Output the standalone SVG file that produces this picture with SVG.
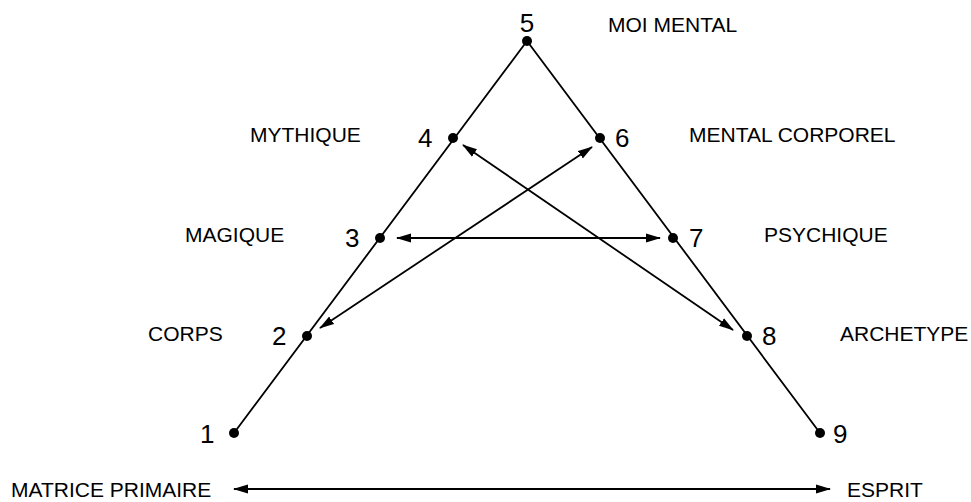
<svg xmlns="http://www.w3.org/2000/svg" width="971" height="502" viewBox="0 0 971 502">
<style>
.ln{stroke:#000;stroke-width:1.8;fill:none}
.ar{stroke:#000;stroke-width:1.8;fill:none;marker-start:url(#ah);marker-end:url(#ah)}
.dot{fill:#000}
.lbl{font-family:"Liberation Sans",Arial,sans-serif;font-size:21px;fill:#000}
.num{font-family:"Liberation Sans",Arial,sans-serif;font-size:26px;fill:#000}
</style>
<defs>
<marker id="ah" viewBox="0 0 15 10" refX="14" refY="5" markerWidth="15" markerHeight="10" markerUnits="userSpaceOnUse" orient="auto-start-reverse">
<path d="M0,0.5 L15,5 L0,9.5 Z" fill="#000"/>
</marker>
</defs>
<rect width="971" height="502" fill="#fff"/>
<g id="connectors">
<polyline class="ln" points="234,433 527,41 820,433"/>
<line class="ar" x1="397" y1="238" x2="660" y2="238"/>
<line class="ar" x1="463" y1="145" x2="733" y2="330"/>
<line class="ar" x1="320" y1="328" x2="592" y2="147"/>
<line class="ar" x1="234" y1="489" x2="830" y2="489"/>
</g>
<g id="node1"><circle class="dot" cx="234" cy="433" r="5"/><text class="num" x="200" y="443">1</text></g>
<g id="node2"><circle class="dot" cx="307" cy="336" r="5"/><text class="num" x="272" y="345">2</text><text class="lbl" x="148" y="341">CORPS</text></g>
<g id="node3"><circle class="dot" cx="380" cy="238" r="5"/><text class="num" x="345" y="247">3</text><text class="lbl" x="185" y="242">MAGIQUE</text></g>
<g id="node4"><circle class="dot" cx="453" cy="138" r="5"/><text class="num" x="418" y="147">4</text><text class="lbl" x="250" y="142">MYTHIQUE</text></g>
<g id="node5"><circle class="dot" cx="527" cy="41" r="5"/><text class="num" x="527" y="32" text-anchor="middle">5</text><text class="lbl" x="608" y="32">MOI MENTAL</text></g>
<g id="node6"><circle class="dot" cx="600" cy="138" r="5"/><text class="num" x="615" y="147">6</text><text class="lbl" x="689" y="142">MENTAL CORPOREL</text></g>
<g id="node7"><circle class="dot" cx="673" cy="238" r="5"/><text class="num" x="689" y="247">7</text><text class="lbl" x="764" y="242">PSYCHIQUE</text></g>
<g id="node8"><circle class="dot" cx="747" cy="336" r="5"/><text class="num" x="762" y="345">8</text><text class="lbl" x="840" y="341">ARCHETYPE</text></g>
<g id="node9"><circle class="dot" cx="820" cy="433" r="5"/><text class="num" x="833" y="443">9</text></g>
<g id="matrice"><text class="lbl" x="11" y="497">MATRICE PRIMAIRE</text></g>
<g id="esprit"><text class="lbl" x="847" y="497">ESPRIT</text></g>
</svg>
